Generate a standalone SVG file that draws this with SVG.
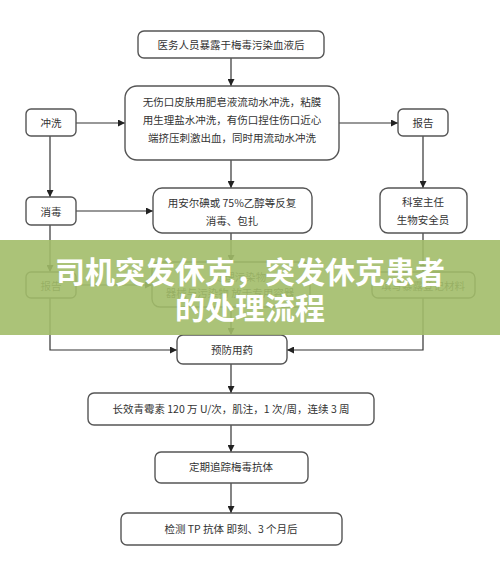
<svg xmlns="http://www.w3.org/2000/svg" width="500" height="577" viewBox="0 0 500 577">
<defs>
<marker id="ah" viewBox="0 0 10 10" refX="10" refY="5" markerWidth="7" markerHeight="7" orient="auto" markerUnits="userSpaceOnUse">
<path d="M0,0 L10,5 L0,10 z" fill="#222"/>
</marker>
<style>
.box{fill:#fff;stroke:#555;stroke-width:1.4}
.t{font-family:"Noto Sans CJK SC","Liberation Sans",sans-serif;font-size:10.5px;fill:#333;text-anchor:middle;dominant-baseline:central}
.ln{fill:none;stroke:#333;stroke-width:1.2}
.title{font-family:"Noto Sans CJK SC","Liberation Sans",sans-serif;font-size:30px;font-weight:bold;fill:#fff;text-anchor:middle;dominant-baseline:central}
</style>
</defs>
<rect width="500" height="577" fill="#fff"/>
<g id="connectors">
<path class="ln" d="M231,58 V86" marker-end="url(#ah)"/>
<path class="ln" d="M76,123 H125" marker-end="url(#ah)"/>
<path class="ln" d="M339,123 H398" marker-end="url(#ah)"/>
<path class="ln" d="M50,136 V197" marker-end="url(#ah)"/>
<path class="ln" d="M423,136 V188" marker-end="url(#ah)"/>
<path class="ln" d="M231,160 V188" marker-end="url(#ah)"/>
<path class="ln" d="M76,211 H153" marker-end="url(#ah)"/>
<path class="ln" d="M50,225 V272" marker-end="url(#ah)"/>
<path class="ln" d="M231,233 V262" marker-end="url(#ah)"/>
<path class="ln" d="M423,233 V272" marker-end="url(#ah)"/>
<path class="ln" d="M76,285 H152" marker-end="url(#ah)"/>
<path class="ln" d="M50,298 V350 H177" marker-end="url(#ah)"/>
<path class="ln" d="M423,298 V350 H287" marker-end="url(#ah)"/>
<path class="ln" d="M231,307 V335" marker-end="url(#ah)"/>
<path class="ln" d="M231,364 V393" marker-end="url(#ah)"/>
<path class="ln" d="M231,425 V452" marker-end="url(#ah)"/>
<path class="ln" d="M231,483 V513" marker-end="url(#ah)"/>
</g>
<g id="n1"><rect class="box" x="138" y="31" width="186" height="27" rx="6"/><text class="t" x="231" y="44">医务人员暴露于梅毒污染血液后</text></g>
<g id="n2"><rect class="box" x="125" y="86" width="214" height="74" rx="12"/>
<text class="t" x="232" y="101">无伤口皮肤用肥皂液流动水冲洗，粘膜</text>
<text class="t" x="232" y="119">用生理盐水冲洗，有伤口捏住伤口近心</text>
<text class="t" x="232" y="137">端挤压刺激出血，同时用流动水冲洗</text></g>
<g id="n3"><rect class="box" x="26" y="109" width="50" height="27" rx="5"/><text class="t" x="51" y="122">冲洗</text></g>
<g id="n4"><rect class="box" x="398" y="109" width="50" height="27" rx="5"/><text class="t" x="423" y="122">报告</text></g>
<g id="n5"><rect class="box" x="26" y="197" width="50" height="28" rx="5"/><text class="t" x="51" y="211">消毒</text></g>
<g id="n6"><rect class="box" x="153" y="188" width="159" height="45" rx="9"/>
<text class="t" x="232" y="202">用安尔碘或 75%乙醇等反复</text>
<text class="t" x="232" y="220">消毒、包扎</text></g>
<g id="n7"><rect class="box" x="380" y="188" width="87" height="45" rx="8"/>
<text class="t" x="423" y="201">科室主任</text>
<text class="t" x="423" y="219">生物安全员</text></g>
<g id="n8"><rect class="box" x="26" y="272" width="50" height="26" rx="5"/><text class="t" x="51" y="285">报告</text></g>
<g id="n9"><rect class="box" x="152" y="262" width="158" height="45" rx="8"/>
<text class="t" x="240" y="276">处理污染物</text>
<text class="t" x="230" y="292">器械与污染物 放于专用容器</text></g>
<g id="n10"><rect class="box" x="372" y="272" width="103" height="26" rx="6"/><text class="t" x="423" y="285">填写暴露登记材料</text></g>
<g id="n11"><rect class="box" x="177" y="335" width="110" height="29" rx="6"/><text class="t" x="232" y="349">预防用药</text></g>
<g id="n12"><rect class="box" x="88" y="393" width="286" height="32" rx="6"/><text class="t" x="231" y="408">长效青霉素 120 万 U/次，肌注，1 次/周，连续 3 周</text></g>
<g id="n13"><rect class="box" x="155" y="452" width="153" height="31" rx="6"/><text class="t" x="231" y="466">定期追踪梅毒抗体</text></g>
<g id="n14"><rect class="box" x="121" y="513" width="221" height="32" rx="6"/><text class="t" x="231" y="528">检测 TP 抗体 即刻、3 个月后</text></g>
<g id="banner">
<rect x="0" y="240" width="500" height="95" fill="#a2bc69" opacity="0.9"/>
<text class="title" x="250" y="270">司机突发休克，突发休克患者</text>
<text class="title" x="250" y="306">的处理流程</text>
</g>
</svg>
